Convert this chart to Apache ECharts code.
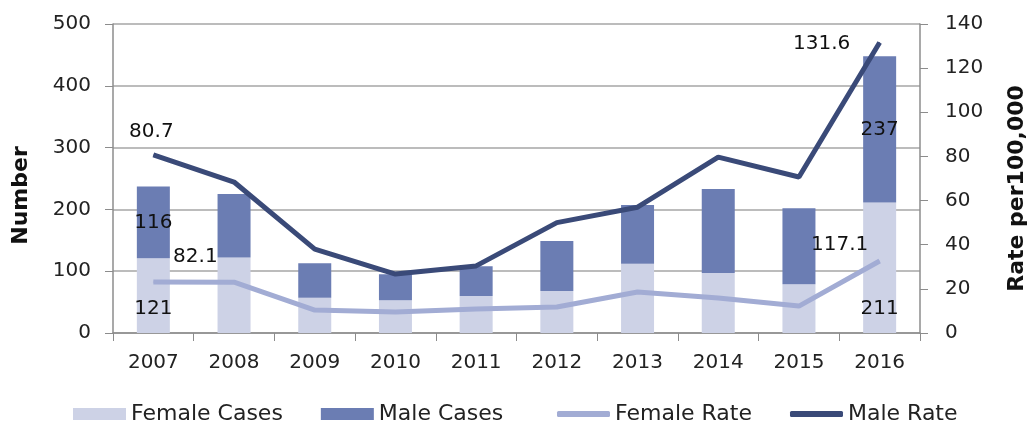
<!DOCTYPE html>
<html>
<head>
  <meta charset="utf-8">
  <title>Cases and rates</title>
  <style>
    body { margin: 0; background: #fff; }
    #chart { width: 1031px; height: 422px; }
  </style>
</head>
<body>
  <div id="chart"></div>
  <script src="https://cdn.jsdelivr.net/npm/echarts@6/dist/echarts.min.js"></script>
  <script>
    var years = ['2007', '2008', '2009', '2010', '2011', '2012', '2013', '2014', '2015', '2016'];
    var femaleCases = [121, 122, 57, 53, 60, 68, 112, 97, 79, 211];
    var maleCases = [116, 103, 56, 42, 48, 81, 95, 136, 123, 237];
    var femaleRate = [23.1, 23, 10.4, 9.5, 10.9, 11.8, 18.6, 15.9, 12.2, 32.6];
    var maleRate = [80.7, 68.4, 38, 26.7, 30.4, 50, 57, 79.7, 70.7, 131.6];
    // labels printed in the original (first and last year only)
    var femaleRateLabels = ['82.1', '', '', '', '', '', '', '', '', '117.1'];
    var maleRateLabels = ['80.7', '', '', '', '', '', '', '', '', '131.6'];

    var font = '"DejaVu Sans", sans-serif';
    var chart = echarts.init(document.getElementById('chart'));

    // show a bar label on the first and last year only
    function ends(values) {
      return values.map(function (v, i) {
        if (i === 0 || i === values.length - 1) {
          return { value: v, label: { show: true } };
        }
        return v;
      });
    }

    function rateData(values, labels, offsets) {
      return values.map(function (v, i) {
        if (!labels[i]) return v;
        return {
          value: v,
          label: {
            show: true, position: 'top', fontSize: 20, color: '#111',
            formatter: labels[i],
            offset: i === 0 ? offsets[0] : offsets[1]
          }
        };
      });
    }

    var legendText = { fontSize: 22, color: '#222', fontFamily: font };

    var option = {
      animation: false,
      textStyle: { fontFamily: font },
      grid: { left: 113, right: 111, top: 24, bottom: 89, outerBoundsMode: 'none', containLabel: false },
      legend: [{
        top: 398,
        left: 68,
        itemWidth: 53,
        itemHeight: 12,
        itemGap: 38,
        icon: 'rect',
        textStyle: legendText,
        data: ['Female Cases', 'Male Cases']
      }, {
        top: 398,
        left: 552,
        itemWidth: 53,
        itemHeight: 6,
        itemGap: 38,
        icon: 'roundRect',
        textStyle: legendText,
        data: ['Female Rate', 'Male Rate']
      }],
      xAxis: {
        type: 'category',
        data: years,
        axisLine: { lineStyle: { color: '#8c8c8c', width: 1.5 } },
        axisTick: { show: true, length: 8, lineStyle: { color: '#8c8c8c' } },
        axisLabel: { fontSize: 20, color: '#222', margin: 20 }
      },
      yAxis: [{
        type: 'value',
        min: 0, max: 500, interval: 100,
        name: 'Number',
        nameLocation: 'middle',
        nameRotate: 90,
        nameGap: 81,
        nameTextStyle: { fontSize: 22, fontWeight: 'bold', color: '#111', padding: [0, 34, 0, 0] },
        axisLine: { show: true, lineStyle: { color: '#8c8c8c', width: 1.5 } },
        axisTick: { show: true, length: 8, lineStyle: { color: '#8c8c8c' } },
        axisLabel: { fontSize: 20, color: '#222', margin: 22 },
        splitLine: { lineStyle: { color: '#a6a6a6', width: 1.5 } }
      }, {
        type: 'value',
        min: 0, max: 140, interval: 20,
        name: 'Rate per100,000',
        nameLocation: 'middle',
        nameRotate: 90,
        nameGap: 86,
        nameTextStyle: { fontSize: 22, fontWeight: 'bold', color: '#111', padding: [0, 20, 0, 0] },
        axisLine: { show: true, lineStyle: { color: '#8c8c8c', width: 1.5 } },
        axisTick: { show: true, length: 8, lineStyle: { color: '#8c8c8c' } },
        axisLabel: { fontSize: 20, color: '#222', margin: 25 },
        splitLine: { show: false }
      }],
      series: [{
        name: 'Female Cases',
        type: 'bar',
        stack: 'cases',
        barWidth: 33,
        itemStyle: { color: '#cdd2e6' },
        label: {
          show: false, position: 'insideBottom', distance: 14,
          fontSize: 20, color: '#111'
        },
        data: ends(femaleCases)
      }, {
        name: 'Male Cases',
        type: 'bar',
        stack: 'cases',
        barWidth: 33,
        itemStyle: { color: '#6b7db3' },
        label: { show: false, position: 'inside', fontSize: 20, color: '#111' },
        data: ends(maleCases)
      }, {
        name: 'Female Rate',
        type: 'line',
        yAxisIndex: 1,
        symbol: 'circle',
        symbolSize: 1,
        showSymbol: true,
        lineStyle: { color: '#a2acd4', width: 5 },
        itemStyle: { color: '#a2acd4' },
        data: rateData(femaleRate, femaleRateLabels, [[42, -10], [-40, -1]])
      }, {
        name: 'Male Rate',
        type: 'line',
        yAxisIndex: 1,
        symbol: 'circle',
        symbolSize: 1,
        showSymbol: true,
        lineStyle: { color: '#3a4a78', width: 5 },
        itemStyle: { color: '#3a4a78' },
        data: rateData(maleRate, maleRateLabels, [[-2, -8], [-58, 17]])
      }]
    };
    chart.setOption(option);
  </script>
</body>
</html>
